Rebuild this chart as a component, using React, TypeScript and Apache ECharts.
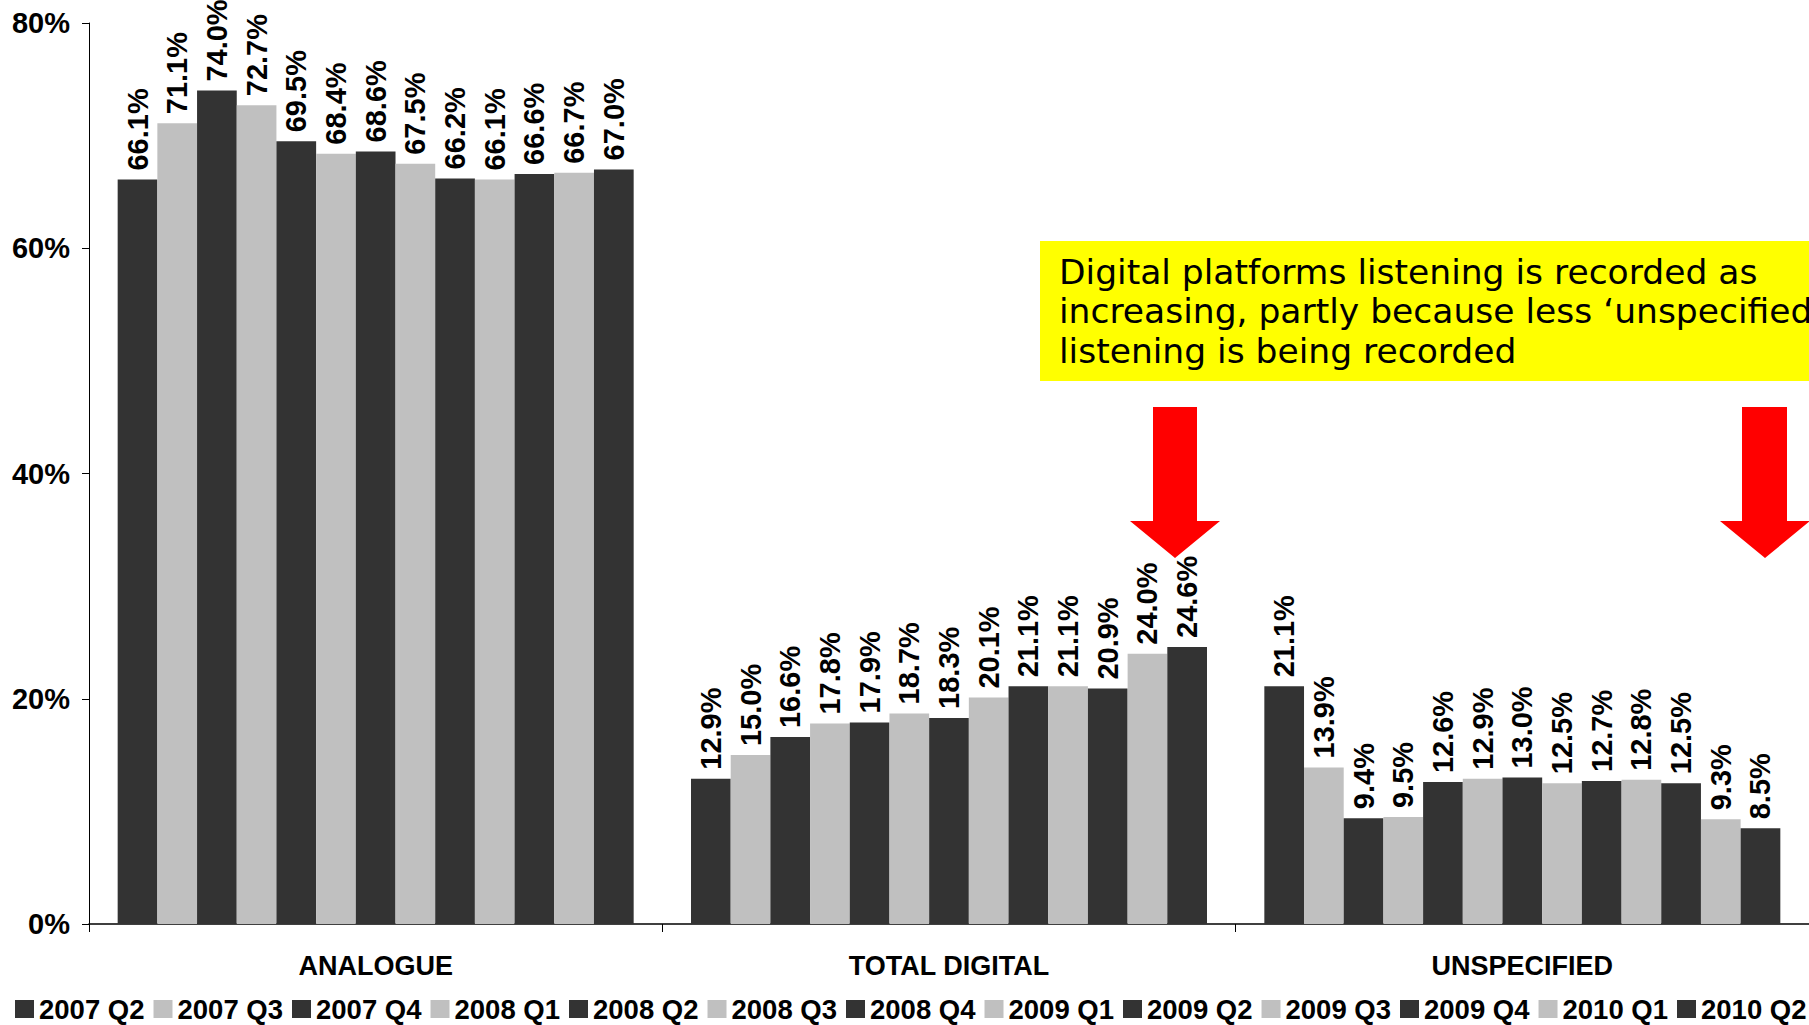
import React, { useEffect, useRef } from "react";
import * as echarts from "echarts";

const categories = ["ANALOGUE", "TOTAL DIGITAL", "UNSPECIFIED"];
const quarters = [
  "2007 Q2", "2007 Q3", "2007 Q4", "2008 Q1", "2008 Q2", "2008 Q3", "2008 Q4",
  "2009 Q1", "2009 Q2", "2009 Q3", "2009 Q4", "2010 Q1", "2010 Q2",
];
const analogue = [66.1, 71.1, 74.0, 72.7, 69.5, 68.4, 68.6, 67.5, 66.2, 66.1, 66.6, 66.7, 67.0];
const digital = [12.9, 15.0, 16.6, 17.8, 17.9, 18.7, 18.3, 20.1, 21.1, 21.1, 20.9, 24.0, 24.6];
const unspecified = [21.1, 13.9, 9.4, 9.5, 12.6, 12.9, 13.0, 12.5, 12.7, 12.8, 12.5, 9.3, 8.5];
const yTicks = [0, 20, 40, 60, 80];
const note = "Digital platforms listening is recorded as\nincreasing, partly because less \u2018unspecified\u2019\nlistening is being recorded";

const DARK = "#333333";
const LIGHT = "#C0C0C0";
const FONT = "'Liberation Sans', Arial, sans-serif";

export default function App() {
  const ref = useRef<HTMLDivElement>(null);
  useEffect(() => {
    if (!ref.current) return;
    const chart = echarts.init(ref.current, null, { renderer: "svg" });
    const series = quarters.map((q, i) => ({
      name: q,
      type: "bar",
      data: [analogue[i], digital[i], unspecified[i]],
      barGap: "0%",
      barCategoryGap: "10%",
      itemStyle: { color: i % 2 === 0 ? DARK : LIGHT },
      label: {
        show: true,
        position: "top",
        rotate: 90,
        align: "left",
        verticalAlign: "middle",
        distance: 9,
        formatter: (p: any) => p.value.toFixed(1) + "%",
        fontFamily: FONT,
        fontWeight: "bold",
        fontSize: 29,
        color: "#000",
      },
    }));
    chart.setOption({
      animation: false,
      backgroundColor: "#ffffff",
      grid: { left: 89, right: -4, top: 23, bottom: 101, containLabel: false },
      xAxis: {
        type: "category",
        data: categories,
        axisLine: { lineStyle: { color: "#000", width: 1.5 } },
        axisTick: { show: true, length: 8, lineStyle: { color: "#000" } },
        axisLabel: {
          margin: 28,
          fontFamily: FONT,
          fontWeight: "bold",
          fontSize: 27,
          color: "#000",
        },
      },
      yAxis: {
        type: "value",
        min: yTicks[0],
        max: yTicks[yTicks.length - 1],
        interval: 20,
        splitLine: { show: false },
        axisLine: { show: true, lineStyle: { color: "#000", width: 1 } },
        axisTick: { show: true, length: 7, lineStyle: { color: "#000" } },
        axisLabel: {
          margin: 19,
          formatter: "{value}%",
          fontFamily: FONT,
          fontWeight: "bold",
          fontSize: 29,
          color: "#000",
        },
      },
      legend: {
        data: quarters,
        left: 15,
        right: 0,
        top: 995,
        padding: 0,
        itemWidth: 19,
        itemHeight: 18,
        itemGap: 9,
        icon: "rect",
        textStyle: { fontFamily: FONT, fontWeight: "bold", fontSize: 27.5, color: "#000" },
      },
      graphic: [
        {
          type: "rect",
          shape: { x: 1040, y: 241, width: 790, height: 140 },
          style: { fill: "#FFFF00" },
          z: 10,
        },
        {
          type: "text",
          x: 1059,
          y: 252,
          z: 11,
          style: {
            text: note,
            fill: "#000",
            font: "34.5px 'DejaVu Sans', sans-serif",
            lineHeight: 39.5,
          },
        },
        {
          type: "polygon",
          z: 10,
          shape: {
            points: [
              [1153, 407], [1197, 407], [1197, 521], [1220, 521], [1175, 558], [1130, 521], [1153, 521],
            ],
          },
          style: { fill: "#FF0000" },
        },
        {
          type: "polygon",
          z: 10,
          shape: {
            points: [
              [1742, 407], [1787, 407], [1787, 521], [1810, 521], [1765, 558], [1720, 521], [1742, 521],
            ],
          },
          style: { fill: "#FF0000" },
        },
      ],
      series,
    });
    return () => chart.dispose();
  }, []);
  return (
    <div
      ref={ref}
      style={{ position: "fixed", left: 0, top: 0, width: 1809, height: 1025, background: "#fff" }}
    />
  );
}
